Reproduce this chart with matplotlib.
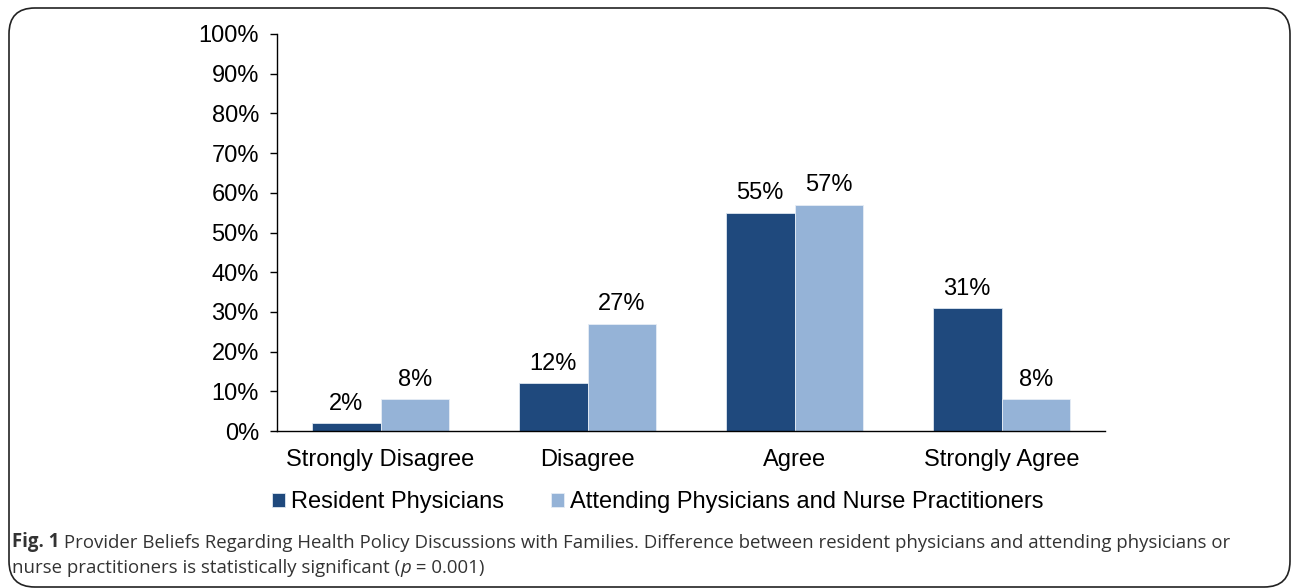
import numpy as np
import matplotlib
matplotlib.use("Agg")
import matplotlib.pyplot as plt
from matplotlib.patches import FancyBboxPatch

# ------------------------
# Data
# ------------------------
categories = ["Strongly Disagree", "Disagree", "Agree", "Strongly Agree"]
resident = [2, 12, 55, 31]
attending = [8, 27, 57, 8]
series_names = ["Resident Physicians", "Attending Physicians and Nurse Practitioners"]
yticks = [0, 10, 20, 30, 40, 50, 60, 70, 80, 90, 100]

dark = "#1F497D"
light = "#95B3D7"
fs = 17

plt.rcParams['font.family'] = ['Liberation Sans', 'DejaVu Sans']

fig = plt.figure(figsize=(12.92, 5.88), dpi=100)
ax = fig.add_axes([277/1292, 157/588, 828/1292, 397/588])

x = np.arange(len(categories))
w = 0.333
b1 = ax.bar(x - w/2, resident, w, color=dark, edgecolor="#dde6f0", linewidth=0.6, label=series_names[0])
b2 = ax.bar(x + w/2, attending, w, color=light, edgecolor="#e6edf5", linewidth=0.6, label=series_names[1])

for bars, vals in [(b1, resident), (b2, attending)]:
    for rect, v in zip(bars, vals):
        ax.annotate(f"{v}%", (rect.get_x() + rect.get_width()/2, v),
                    xytext=(0, 6), textcoords="offset points",
                    ha="center", va="bottom", fontsize=fs)

ax.set_xlim(-0.5, 3.5)
ax.set_ylim(0, 100)
ax.set_yticks(yticks)
ax.set_yticklabels([f"{t}%" for t in yticks], fontsize=fs)
ax.set_xticks(x)
ax.set_xticklabels(categories, fontsize=fs)
ax.tick_params(axis="x", length=0, pad=13)
ax.tick_params(axis="y", length=5, width=1, pad=8, direction="out")
ax.spines["top"].set_visible(False)
ax.spines["right"].set_visible(False)
ax.spines["left"].set_linewidth(1)
ax.spines["bottom"].set_linewidth(1)

leg = fig.legend(handles=[b1, b2], loc="center", bbox_to_anchor=(658/1292, 1 - 502/588),
                 ncol=2, frameon=False, fontsize=fs, handlelength=0.55, handleheight=0.55,
                 handletextpad=0.25, columnspacing=2.0)

# ------------------------
# Caption
# ------------------------
cap_color = "#333333"
cap_font = ['Open Sans', 'DejaVu Sans']
cs = 13.4
t = fig.text(12/1292, 1 - 547/588, "Fig. 1", fontsize=cs, fontweight="bold",
             family=cap_font, color=cap_color, va="baseline")
fig.canvas.draw()
t2 = ax.annotate(" Provider Beliefs Regarding Health Policy Discussions with Families. Difference between resident physicians and attending physicians or",
                 xy=(1, 0), xycoords=t, va="bottom", fontsize=cs, family=cap_font, color=cap_color,
                 annotation_clip=False)
l2 = fig.text(12/1292, 1 - 573/588, "nurse practitioners is statistically significant (",
              fontsize=cs, family=cap_font, color=cap_color, va="baseline")
l3 = ax.annotate("p", xy=(1, 0), xycoords=l2, va="bottom", fontsize=cs, family=cap_font,
                 style="italic", color=cap_color, annotation_clip=False)
ax.annotate(" = 0.001)", xy=(1, 0), xycoords=l3, va="bottom", fontsize=cs, family=cap_font,
            color=cap_color, annotation_clip=False)

# rounded border
box = FancyBboxPatch((9/1292, 1/588), 1290/1292 - 9/1292, 580/588 - 1/588,
                     boxstyle="round,pad=0,rounding_size=0.02", transform=fig.transFigure,
                     fill=False, edgecolor="#222222", linewidth=1.2, mutation_aspect=1292/588)
fig.patches.append(box)

fig.savefig("out.png", dpi=100)
